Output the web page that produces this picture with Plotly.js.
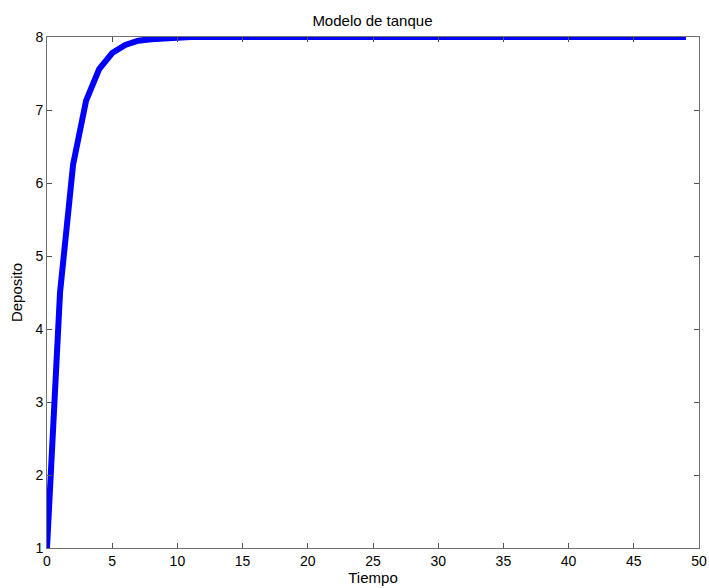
<!DOCTYPE html>
<html>
<head>
<meta charset="utf-8">
<script src="https://cdn.plot.ly/plotly-3.0.1.min.js"></script>
<style>html,body{margin:0;padding:0;background:#fff;}#chart{width:709px;height:588px;}</style>
</head>
<body>
<div id="chart"></div>
<script>
var tiempo = [0,1,2,3,4,5,6,7,8,9,10,11,12,13,14,15,16,17,18,19,20,21,22,23,24,25,26,27,28,29,30,31,32,33,34,35,36,37,38,39,40,41,42,43,44,45,46,47,48,49];
var deposito = [1,4.5,6.25,7.13,7.56,7.78,7.89,7.95,7.97,7.99,7.99,8,8,8,8,8,8,8,8,8,8,8,8,8,8,8,8,8,8,8,8,8,8,8,8,8,8,8,8,8,8,8,8,8,8,8,8,8,8,8];
var xTicks = [0,5,10,15,20,25,30,35,40,45,50];
var yTicks = [1,2,3,4,5,6,7,8];

var fam = 'Liberation Sans, Arial, sans-serif';
var tickFont = {family: fam, size: 14, color: '#000'};
var titleFont = {family: fam, size: 15, color: '#000'};
var trace = {
  x: tiempo, y: deposito, type: 'scatter', mode: 'lines',
  line: {color: '#0000ff', width: 6}, hoverinfo: 'none'
};
var axisCommon = {
  showgrid: false, zeroline: false, showline: true, linecolor: '#707070', linewidth: 1,
  mirror: 'ticks', ticks: 'inside', ticklen: 5, tickcolor: '#505050', tickwidth: 1,
  tickfont: tickFont
};
var layout = {
  width: 709, height: 588,
  margin: {l: 46.5, r: 10, t: 36.7, b: 40.3},
  paper_bgcolor: '#fff', plot_bgcolor: '#fff',
  showlegend: false,
  title: {text: 'Modelo de tanque', font: titleFont, x: 0.5253, xanchor: 'center', y: 0.965, yanchor: 'middle'},
  xaxis: Object.assign({}, axisCommon, {range: [0, 50], tickvals: xTicks, ticktext: xTicks.map(String),
    title: {text: 'Tiempo', font: titleFont, standoff: 1}}),
  yaxis: Object.assign({}, axisCommon, {range: [1, 8], tickvals: yTicks, ticktext: yTicks.map(String),
    title: {text: 'Deposito', font: titleFont, standoff: 9}})
};
Plotly.newPlot('chart', [trace], layout, {staticPlot: true});
</script>
</body>
</html>
